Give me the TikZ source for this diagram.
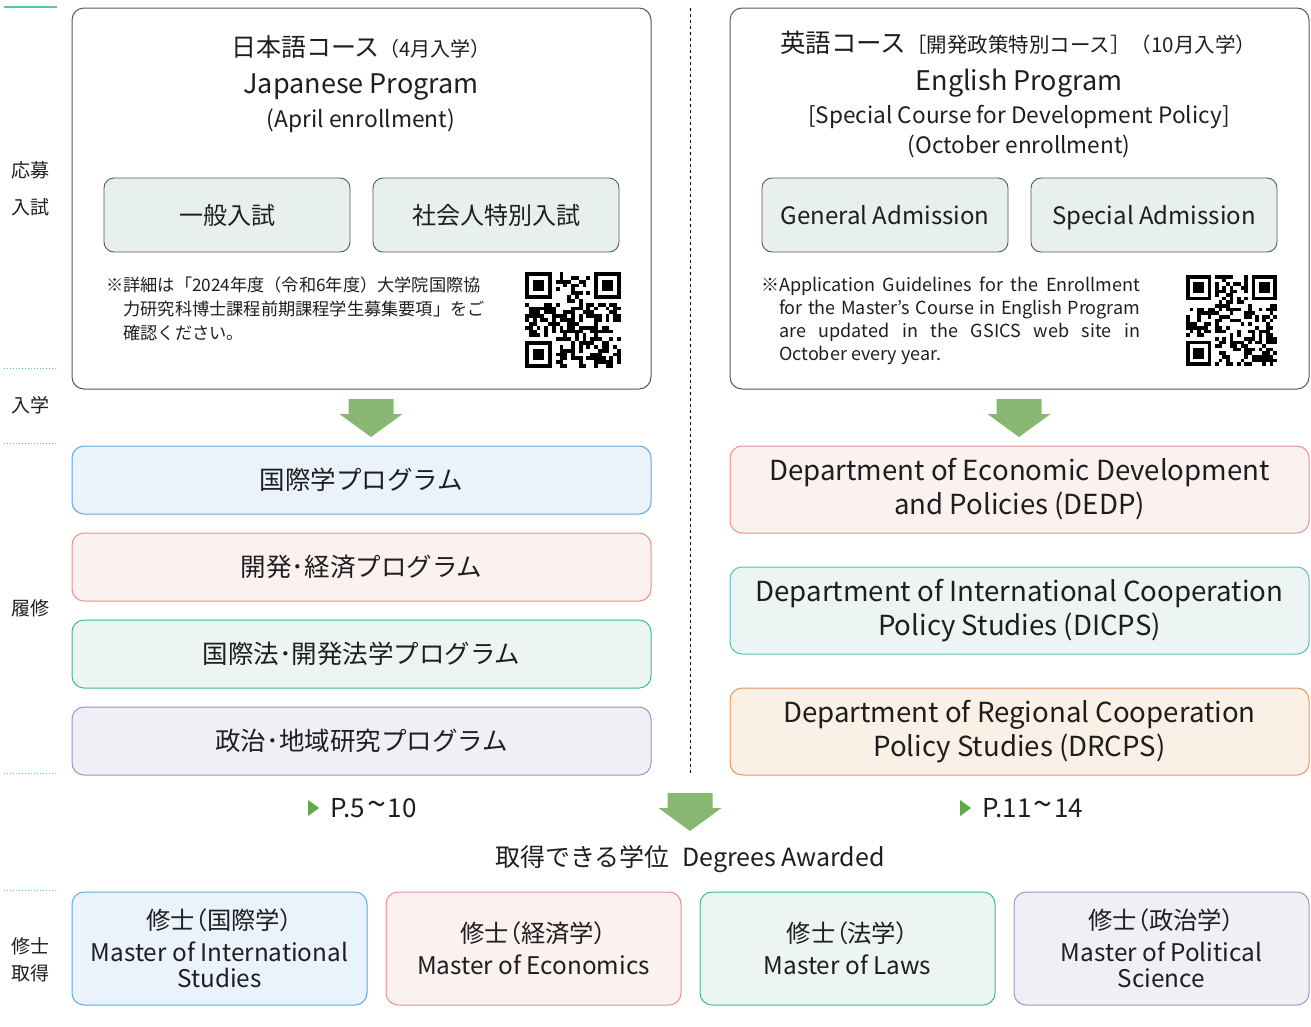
\documentclass[tikz,border=0pt]{standalone}
\usepackage{fontspec}
\setmainfont{Noto Sans CJK JP}
\newfontfamily\jpalt{Noto Sans CJK JP}[RawFeature=+palt]
\usetikzlibrary{calc}
\definecolor{boxgray}{HTML}{595757}
\definecolor{admfill}{HTML}{E8F0EE}
\definecolor{textc}{HTML}{1E1E1E}
\definecolor{blueline}{HTML}{5DAADF}
\definecolor{bluefill}{HTML}{EAF3FB}
\definecolor{redline}{HTML}{E9908B}
\definecolor{redfill}{HTML}{FAF1F0}
\definecolor{greenline}{HTML}{3EBA98}
\definecolor{greenfill}{HTML}{ECF5F1}
\definecolor{purpline}{HTML}{9C92C9}
\definecolor{purpfill}{HTML}{F0EFF6}
\definecolor{tealline}{HTML}{55BFBA}
\definecolor{tealfill}{HTML}{ECF5F4}
\definecolor{orngline}{HTML}{E9955D}
\definecolor{orngfill}{HTML}{FBF0E6}
\definecolor{arrowgreen}{HTML}{88B771}
\definecolor{markgreen}{HTML}{5FAA46}
\definecolor{septeal}{HTML}{5CC0B5}
\newcommand\fsz[2]{\fontsize{#1}{#2}\selectfont}
\def\GreenArrow(#1,#2){\fill[arrowgreen] (#1-22.5,#2) -- (#1+22.5,#2) -- (#1+22.5,#2+15) --%
(#1+31.5,#2+15) -- (#1,#2+38) -- (#1-31.5,#2+15) -- (#1-22.5,#2+15) -- cycle;}
\def\QRcode(#1,#2,#3){\foreach \i in {0,...,24}{\foreach \j in {0,...,24}{%
\pgfmathtruncatemacro\fin{((\i<8)&&(\j<8))||((\i>16)&&(\j<8))||((\i<8)&&(\j>16))}%
\pgfmathtruncatemacro\bit{rnd<0.48}%
\ifnum\fin=0 \ifnum\bit=1 \fill (#1+\i*#3,#2+\j*#3) rectangle ++(#3,#3);\fi\fi}}%
\foreach \a/\b in {0/0,18/0,0/18}{\fill (#1+\a*#3,#2+\b*#3) rectangle ++(7*#3,7*#3);%
\fill[white] (#1+\a*#3+#3,#2+\b*#3+#3) rectangle ++(5*#3,5*#3);%
\fill (#1+\a*#3+2*#3,#2+\b*#3+2*#3) rectangle ++(3*#3,3*#3);}}
\newcommand\wave{\kern2pt\raisebox{0.03em}{\fsz{34}{34}\char"7E}\kern2pt}

\begin{document}
\begin{tikzpicture}[x=1pt,y=-1pt,text=textc] %% tikz
	\tikzstyle{bigbox}=[draw=boxgray,line width=1pt,rounded corners=12pt,minimum width=579pt,minimum height=381pt];
	\tikzstyle{adm}=[draw=boxgray,fill=admfill,line width=0.9pt,rounded corners=10pt,minimum width=246pt,minimum height=74pt,text height=21pt,text depth=3pt,font=\fsz{24}{28}];
	\tikzstyle{prog}=[line width=1pt,rounded corners=12pt,minimum width=579pt,minimum height=68pt,font=\fsz{25.5}{30}];
	\tikzstyle{dept}=[prog,minimum height=87pt,align=center,font=\fsz{27.6}{34}];
	\tikzstyle{deg}=[line width=1pt,rounded corners=12pt,minimum width=295pt,minimum height=113pt,align=center,font=\fsz{24.3}{26}];
	\tikzstyle{side}=[font=\fsz{19}{22}];
	\tikzstyle{sep}=[septeal,line width=1pt,dash pattern=on 1pt off 2pt];
	\useasboundingbox (0,0) rectangle (1311,1026);
	%% side column
	\draw[septeal,line width=1.2pt] (4,7) -- (57,7);
	\foreach \yy in {368,443,773,890} \draw[sep] (4,\yy) -- (57,\yy);
	\node[side] (s1) at (31,170) {応募};
	\node[side] (s2) at (31,207) {入試};
	\node[side] (s3) at (31,405) {入学};
	\node[side] (s4) at (31,608) {履修};
	\node[side] (s5) at (31,946) {修士};
	\node[side] (s6) at (31,973) {取得};
	%% divider
	\coordinate (dtop) at (690,8);
	\coordinate (dbot) at (690,775);
	\draw[line width=0.8pt,dash pattern=on 3pt off 3pt] (dtop) -- (dbot);
	%% japanese program
	\node[bigbox] (JP) at (361.5,198.5) {};
	\node (JP1) at (361,47) {\fsz{25}{30}日本語コース\fsz{20}{24}（4月入学）};
	\node[font=\fsz{27}{30}] (JP2) at (361,87) {Japanese Program};
	\node[font=\fsz{22.8}{26}] (JP3) at (361,121) {(April enrollment)};
	\node[adm] (JPa) at (227,215) {一般入試};
	\node[adm] (JPb) at (496,215) {社会人特別入試};
	\node[anchor=west,align=left,inner sep=0pt,font=\fsz{17.2}{24}] (JPn) at (106,309)
		{※詳細は「2024年度（令和6年度）大学院国際協\\\hspace*{1em}力研究科博士課程前期課程学生募集要項」をご\\\hspace*{1em}確認ください。};
	\pgfmathsetseed{11}
	\QRcode(525,272,3.84)
	%% english program
	\node[bigbox] (EN) at (1019.5,198.5) {};
	\node (EN1) at (1018,43) {\fsz{25.5}{30}英語コース\fsz{20.5}{24}［開発政策特別コース］（10月入学）};
	\node[font=\fsz{27}{30}] (EN2) at (1019,83) {English Program};
	\node[font=\fsz{22.6}{26}] (EN3) at (1019,117) {[Special Course for Development Policy]};
	\node[font=\fsz{22.6}{26}] (EN4) at (1019,146) {(October enrollment)};
	\node[adm] (ENa) at (885,215) {General Admission};
	\node[adm] (ENb) at (1154,215) {Special Admission};
	\node[anchor=west,align=left,inner sep=0pt,font=\fsz{18}{23}] (ENn) at (779,320.5)
		{\llap{※}\makebox[361pt][s]{Application Guidelines for the Enrollment}\\
		\makebox[361pt][s]{for the Master's Course in English Program}\\
		\makebox[361pt][s]{are updated in the GSICS web site in}\\
		October every year.};
	\pgfmathsetseed{29}
	\QRcode(1186,275,3.64)
	%% arrows
	\GreenArrow(371,399)
	\GreenArrow(1019,399)
	\GreenArrow(690,793)
	%% programs
	\node[prog,draw=blueline,fill=bluefill] (P1) at (361.5,480) {国際学プログラム};
	\node[prog,draw=redline,fill=redfill] (P2) at (361.5,567) {開発･経済プログラム};
	\node[prog,draw=greenline,fill=greenfill] (P3) at (361.5,654) {国際法･開発法学プログラム};
	\node[prog,draw=purpline,fill=purpfill] (P4) at (361.5,741) {政治･地域研究プログラム};
	%% departments
	\node[dept,draw=redline,fill=redfill] (D1) at (1019.5,489.5) {Department of Economic Development\\and Policies (DEDP)};
	\node[dept,draw=tealline,fill=tealfill] (D2) at (1019.5,610.5) {Department of International Cooperation\\Policy Studies (DICPS)};
	\node[dept,draw=orngline,fill=orngfill] (D3) at (1019.5,731.5) {Department of Regional Cooperation\\Policy Studies (DRCPS)};
	%% page refs
	\fill[markgreen] (308,800) -- (319,808) -- (308,816) -- cycle;
	\node[anchor=west,font=\fsz{26}{30},inner sep=0pt] (R1) at (330,808) {P.5\wave10};
	\fill[markgreen] (960,800) -- (971,808) -- (960,816) -- cycle;
	\node[anchor=west,font=\fsz{26}{30},inner sep=0pt] (R2) at (982,808) {P.11\wave14};
	\node[font=\fsz{25}{30}] (DA) at (690,859) {取得できる学位\hspace{0.5em}Degrees Awarded};
	%% degrees
	\node[deg,draw=blueline,fill=bluefill] (G1) at (219.5,948.5) {{\jpalt 修士（国際学）}\\[6pt]Master of International\\Studies};
	\node[deg,draw=redline,fill=redfill] (G2) at (533.5,948.5) {{\jpalt 修士（経済学）}\\[6pt]Master of Economics};
	\node[deg,draw=greenline,fill=greenfill] (G3) at (847.5,948.5) {{\jpalt 修士（法学）}\\[6pt]Master of Laws};
	\node[deg,draw=purpline,fill=purpfill] (G4) at (1161.5,948.5) {{\jpalt 修士（政治学）}\\[6pt]Master of Political\\Science};
\end{tikzpicture}
\end{document}
